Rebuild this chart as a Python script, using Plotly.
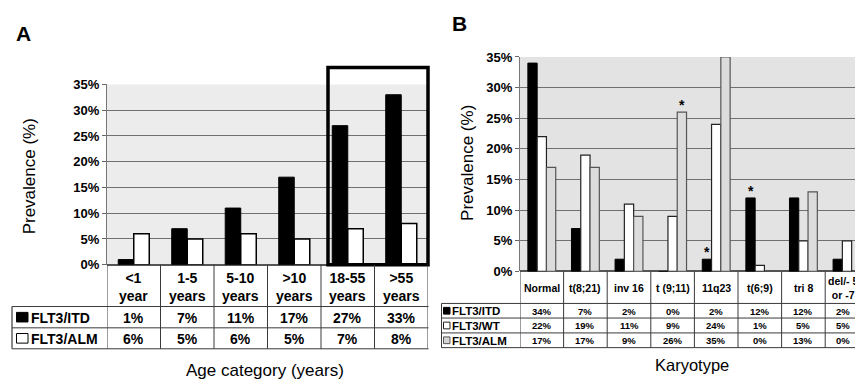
import plotly.graph_objects as go

# ---------------- data ----------------
age_cats = ["<1", "1-5", "5-10", ">10", "18-55", ">55"]
age_units = ["year", "years", "years", "years", "years", "years"]
itd_age = [1, 7, 11, 17, 27, 33]
alm_age = [6, 5, 6, 5, 7, 8]

kary_cats = ["Normal", "t(8;21)", "inv 16", "t (9;11)", "11q23", "t(6;9)", "tri 8", "del/- 5<br>or -7"]
itd_kary = [34, 7, 2, 0, 2, 12, 12, 2]
wt_kary = [22, 19, 11, 9, 24, 1, 5, 5]
alm_kary = [17, 17, 9, 26, 35, 0, 13, 0]

y_ticks = [0, 5, 10, 15, 20, 25, 30, 35]
y_tick_labels = [f"{v}%" for v in y_ticks]
star_marks = [("t (9;11)", "alm"), ("11q23", "itd"), ("t(6;9)", "itd")]

# ---------------- geometry helpers ----------------
# the page body has an 8px margin, so the figure is drawn 8px right/down
OFF = 8
W, H = 863 - OFF, 388 - OFF
def PX(x):
    return (x - OFF) / W
def PY(y):
    return 1 - (y - OFF) / H

ARIAL = "Liberation Sans, Arial, sans-serif"

A_left, A_right, A_top, A_bot = 107, 428, 80.3, 268
B_left, B_top, B_bot = 520, 51.7, 275
B_catw = 43.6
A_catw = (A_right - A_left) / len(age_cats)

fig = go.Figure()

# ---------------- panel A bars ----------------
wA = 0.29
fig.add_trace(go.Bar(x=age_cats, y=itd_age, name="FLT3/ITD", xaxis="x", yaxis="y",
                     width=wA, offset=-wA,
                     marker=dict(color="black", line=dict(color="black", width=1))))
fig.add_trace(go.Bar(x=age_cats, y=alm_age, name="FLT3/ALM", xaxis="x", yaxis="y",
                     width=wA, offset=0,
                     marker=dict(color="white", line=dict(color="black", width=1.5))))

# ---------------- panel B bars ----------------
wB = 0.213
fig.add_trace(go.Bar(x=kary_cats, y=itd_kary, name="FLT3/ITD", xaxis="x2", yaxis="y2",
                     width=wB, offset=-1.5 * wB,
                     marker=dict(color="black", line=dict(color="black", width=1))))
fig.add_trace(go.Bar(x=kary_cats, y=wt_kary, name="FLT3/WT", xaxis="x2", yaxis="y2",
                     width=wB, offset=-0.5 * wB,
                     marker=dict(color="white", line=dict(color="#222", width=1.2))))
fig.add_trace(go.Bar(x=kary_cats, y=alm_kary, name="FLT3/ALM", xaxis="x2", yaxis="y2",
                     width=wB, offset=0.5 * wB,
                     marker=dict(color="#dcdcdc", line=dict(color="#555", width=1.2))))

shapes = []
annotations = []

# plot-area backgrounds
shapes.append(dict(type="rect", xref="x domain", yref="y domain", x0=0, x1=1, y0=0, y1=1,
                   fillcolor="#ececec", line=dict(width=0), layer="below"))
shapes.append(dict(type="rect", xref="x2 domain", yref="y2 domain", x0=0, x1=1, y0=0, y1=1,
                   fillcolor="#e3e3e3", line=dict(width=0), layer="below"))

# highlight box around adult categories (panel A)
shapes.append(dict(type="rect", xref="x domain", yref="y domain",
                   x0=(3.5 + 7 / A_catw + 0.5) / 6, x1=1.0, y0=0, y1=(A_bot - 62.7) / (A_bot - A_top),
                   line=dict(color="black", width=3.5), fillcolor="rgba(0,0,0,0)", layer="above"))

# ---------------- table A ----------------
TA_left = 12
TA_rows = [A_bot, 311.5, 333.7, 355.5]
line_col = "#3a3a3a"
for i in range(len(age_cats) + 1):
    shapes.append(dict(type="line", xref="x", yref="paper", x0=i - 0.5, x1=i - 0.5,
                       y0=PY(TA_rows[0]), y1=PY(TA_rows[-1]), line=dict(color=line_col, width=1)))
shapes.append(dict(type="line", xref="paper", yref="paper", x0=PX(TA_left), x1=PX(TA_left),
                   y0=PY(TA_rows[1]), y1=PY(TA_rows[-1]), line=dict(color=line_col, width=1.2)))
for r in TA_rows[1:]:
    shapes.append(dict(type="line", xref="paper", yref="paper", x0=PX(TA_left), x1=PX(A_right + 0.5),
                       y0=PY(r), y1=PY(r), line=dict(color=line_col, width=1)))

fA = dict(family=ARIAL, size=14, color="black", weight="bold")
for i, c in enumerate(age_cats):
    label = c.replace("<", "&lt;")
    annotations.append(dict(xref="x", yref="paper", x=c, y=PY((TA_rows[0] + TA_rows[1]) / 2 + 1),
                            text=f"{label}<br>{age_units[i]}", showarrow=False, font=fA,
                            xanchor="center", yanchor="middle"))
    annotations.append(dict(xref="x", yref="paper", x=c, y=PY((TA_rows[1] + TA_rows[2]) / 2 + 0.5),
                            text=f"{itd_age[i]}%", showarrow=False, font=fA,
                            xanchor="center", yanchor="middle"))
    annotations.append(dict(xref="x", yref="paper", x=c, y=PY((TA_rows[2] + TA_rows[3]) / 2 + 0.5),
                            text=f"{alm_age[i]}%", showarrow=False, font=fA,
                            xanchor="center", yanchor="middle"))

rowsA = [("FLT3/ITD", "black", "black"), ("FLT3/ALM", "white", "black")]
for k, (lab, fc, lc) in enumerate(rowsA):
    yc = (TA_rows[k + 1] + TA_rows[k + 2]) / 2
    shapes.append(dict(type="rect", xref="paper", yref="paper", x0=PX(16.5), x1=PX(28),
                       y0=PY(yc + 5), y1=PY(yc - 5), fillcolor=fc, line=dict(color=lc, width=1)))
    annotations.append(dict(xref="paper", yref="paper", x=PX(29), y=PY(yc + 0.5), text=lab,
                            showarrow=False, font=fA, xanchor="left", yanchor="middle"))

# ---------------- table B ----------------
TB_left = 441.5
TB_rows = [B_bot, 308.3, 323.5, 339, 354.3]
for i in range(len(kary_cats) + 1):
    shapes.append(dict(type="line", xref="x2", yref="paper", x0=i - 0.5, x1=i - 0.5,
                       y0=PY(TB_rows[0]), y1=PY(TB_rows[-1]), line=dict(color=line_col, width=1)))
shapes.append(dict(type="line", xref="paper", yref="paper", x0=PX(TB_left), x1=PX(TB_left),
                   y0=PY(TB_rows[1]), y1=PY(TB_rows[-1]), line=dict(color=line_col, width=1)))
for r in TB_rows[1:]:
    shapes.append(dict(type="line", xref="paper", yref="paper", x0=PX(TB_left), x1=1,
                       y0=PY(r), y1=PY(r), line=dict(color=line_col, width=1)))

fBh = dict(family=ARIAL, size=10.5, color="black", weight="bold")
fBc = dict(family=ARIAL, size=9.5, color="black", weight="bold")
fBl = dict(family=ARIAL, size=11.5, color="black", weight="bold")
series_B = [itd_kary, wt_kary, alm_kary]
n_k = len(kary_cats)
for i, c in enumerate(kary_cats):
    # the last column is cut by the right edge; nudge its text so it stays readable
    shift = -4 if i == n_k - 1 else 0
    annotations.append(dict(xref="x2", yref="paper", x=c, y=PY((TB_rows[0] + TB_rows[1]) / 2 + 1),
                            text=c, showarrow=False, font=fBh, xanchor="center", yanchor="middle",
                            xshift=shift))
    for k, ser in enumerate(series_B):
        yc = (TB_rows[k + 1] + TB_rows[k + 2]) / 2
        annotations.append(dict(xref="x2", yref="paper", x=c, y=PY(yc + 0.5),
                                text=f"{ser[i]}%", showarrow=False, font=fBc,
                                xanchor="center", yanchor="middle", xshift=shift))

rowsB = [("FLT3/ITD", "black", "black"), ("FLT3/WT", "white", "#222"), ("FLT3/ALM", "#d4d4d4", "#555")]
for k, (lab, fc, lc) in enumerate(rowsB):
    yc = (TB_rows[k + 1] + TB_rows[k + 2]) / 2
    shapes.append(dict(type="rect", xref="paper", yref="paper", x0=PX(443.5), x1=PX(450),
                       y0=PY(yc + 3.5), y1=PY(yc - 3.5), fillcolor=fc, line=dict(color=lc, width=1)))
    annotations.append(dict(xref="paper", yref="paper", x=PX(450), y=PY(yc + 0.5), text=lab,
                            showarrow=False, font=fBl, xanchor="left", yanchor="middle"))

# ---------------- significance stars ----------------
ser_map = {"itd": (itd_kary, -1.0), "wt": (wt_kary, 0.0), "alm": (alm_kary, 1.0)}
for cat, s in star_marks:
    vals, off = ser_map[s]
    v = vals[kary_cats.index(cat)]
    annotations.append(dict(xref="x2", yref="y2", x=cat, y=v, text="*", showarrow=False,
                            xshift=off * wB * B_catw, yshift=-3, yanchor="bottom",
                            font=dict(family=ARIAL, size=14, color="black", weight="bold")))

# ---------------- titles & panel letters ----------------
ftitle = dict(family=ARIAL, size=17, color="black")
annotations += [
    dict(xref="paper", yref="paper", x=PX(29), y=PY(176), text="Prevalence (%)", textangle=-90,
         showarrow=False, font=ftitle, xanchor="center", yanchor="middle"),
    dict(xref="paper", yref="paper", x=PX(468), y=PY(162), text="Prevalence (%)", textangle=-90,
         showarrow=False, font=ftitle, xanchor="center", yanchor="middle"),
    dict(xref="paper", yref="paper", x=PX(265), y=PY(378), text="Age category (years)",
         showarrow=False, font=ftitle, xanchor="center", yanchor="middle"),
    dict(xref="paper", yref="paper", x=PX(692), y=PY(372), text="Karyotype",
         showarrow=False, font=dict(family=ARIAL, size=16.5, color="black"),
         xanchor="center", yanchor="middle"),
    dict(xref="paper", yref="paper", x=PX(23), y=PY(27.5), text="A", showarrow=False,
         font=dict(family=ARIAL, size=21, color="black", weight="bold"), xanchor="center", yanchor="middle"),
    dict(xref="paper", yref="paper", x=PX(459), y=PY(17), text="B", showarrow=False,
         font=dict(family=ARIAL, size=21, color="black", weight="bold"), xanchor="center", yanchor="middle"),
]

ytick_font = dict(family=ARIAL, size=13, color="black", weight="bold")
yax_common = dict(range=[0, 35], tickmode="array", tickvals=y_ticks, ticktext=y_tick_labels,
                  showgrid=True, gridcolor="#707070", gridwidth=1.2, zeroline=True,
                  zerolinecolor="#555", zerolinewidth=2, showline=True, linecolor="#777",
                  linewidth=1, ticks="outside", ticklen=4, tickcolor="#666",
                  tickfont=ytick_font, fixedrange=True)

fig.update_layout(
    width=W, height=H,
    margin=dict(l=0, r=0, t=0, b=0),
    paper_bgcolor="white", plot_bgcolor="white",
    showlegend=False, barmode="group",
    xaxis=dict(domain=[PX(A_left), PX(A_right)], type="category", range=[-0.5, 5.5],
               showticklabels=False, showgrid=False, zeroline=False, showline=False, ticks=""),
    yaxis=dict(domain=[PY(A_bot), PY(A_top)], anchor="x", **yax_common),
    xaxis2=dict(domain=[PX(B_left), 1.0], type="category",
                range=[-0.5, -0.5 + (863 - B_left) / B_catw], anchor="y2",
                showticklabels=False, showgrid=False, zeroline=False, showline=False, ticks=""),
    yaxis2=dict(domain=[PY(B_bot), PY(B_top)], anchor="x2", **yax_common),
    shapes=shapes,
    annotations=annotations,
)

fig.write_html("out.html")
